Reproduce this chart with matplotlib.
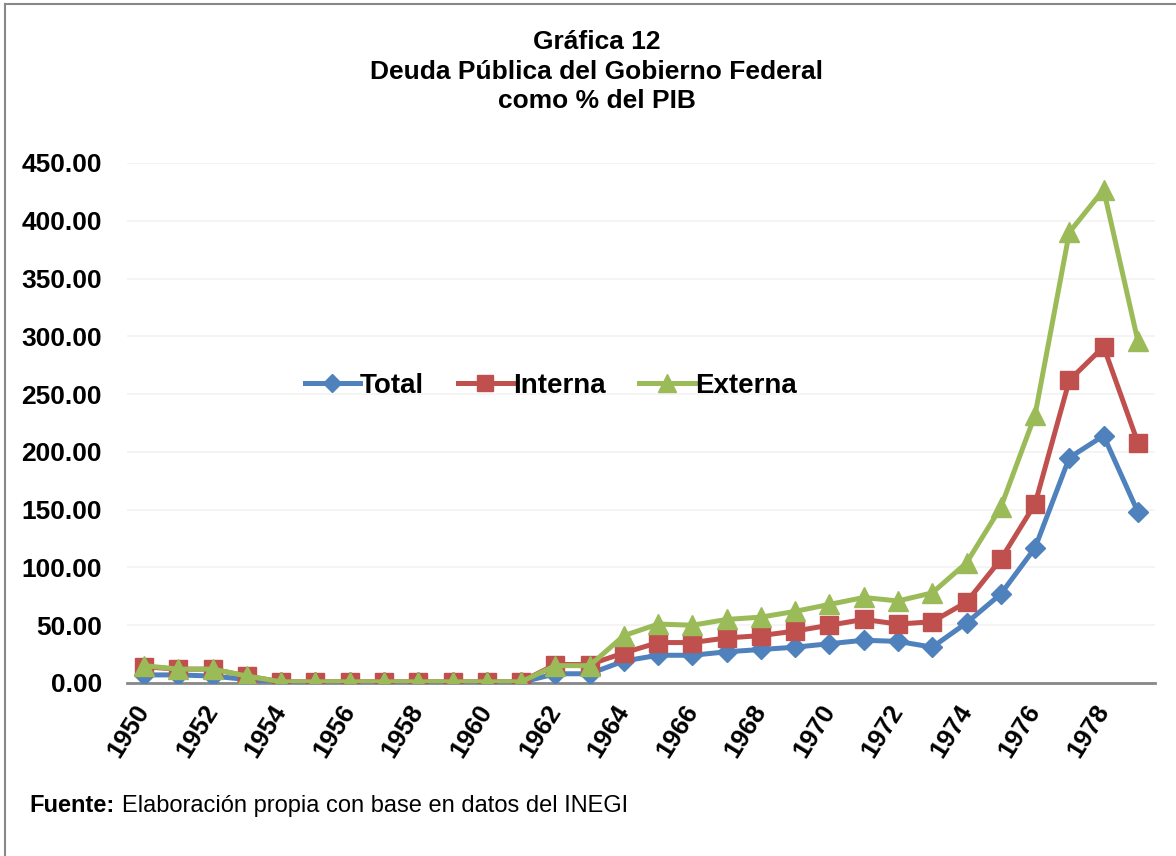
import matplotlib
matplotlib.use("Agg")
import matplotlib.pyplot as plt
from matplotlib.lines import Line2D

years = list(range(1950, 1980))
total = [7, 7, 6, 3, 0.5, 0.5, 0.5, 0.5, 0.5, 0.5, 0.5, 0.5, 8, 8,
         19, 24, 24, 27, 29, 31, 34, 37, 36, 31, 52, 77, 117, 195, 214, 148]
interna = [14, 12, 12, 6, 1, 1, 1, 1, 1, 1, 1, 1, 16, 16,
           26, 35, 35, 39, 41, 45, 50, 55, 51, 53, 70, 107, 155, 262, 291, 208]
externa = [15, 12, 12, 6, 1, 1, 1, 1, 1, 1, 1, 1, 15, 15,
           41, 51, 50, 55, 57, 62, 68, 74, 71, 78, 104, 152, 232, 390, 427, 296]
yticks = [0, 50, 100, 150, 200, 250, 300, 350, 400, 450]
xtick_years = list(range(1950, 1980, 2))

plt.rcParams['font.family'] = ['Liberation Sans', 'DejaVu Sans']

fig = plt.figure(figsize=(11.76, 8.56), dpi=100)
ax = fig.add_axes([127/1176, 1-683/856, (1155-127)/1176, (683-163)/856])

lw = 3.6
ax.plot(years, total, color='#4F81BD', lw=lw, marker='D', markersize=10, label='Total', zorder=3)
ax.plot(years, interna, color='#C0504D', lw=lw, marker='s', markersize=13, label='Interna', zorder=4)
ax.plot(years, externa, color='#9BBB59', lw=lw, marker='^', markersize=15, label='Externa', zorder=5)

ax.set_xlim(1949.5, 1979.5)
ax.set_ylim(0, 450)
ax.set_yticks(yticks)
ax.set_yticklabels([f"{v:.2f}" for v in yticks], fontsize=19, fontweight='bold')
ax.set_xticks(xtick_years)
ax.set_xticklabels([str(y) for y in xtick_years], fontsize=18.5, fontweight='bold',
                   rotation=58, ha='right', va='center', rotation_mode='anchor')
ax.tick_params(axis='both', length=0)
ax.tick_params(axis='y', pad=18)
ax.tick_params(axis='x', pad=17)
ax.grid(axis='y', color='#f2f2f2', lw=1.2)
ax.set_axisbelow(True)
for s in ['top', 'right', 'left']:
    ax.spines[s].set_visible(False)
ax.spines['bottom'].set_color('#888888')
ax.spines['bottom'].set_linewidth(2)

leg = ax.legend(loc='center', bbox_to_anchor=(0.412, 0.571), ncol=3, frameon=False,
                prop={'weight': 'bold', 'size': 20}, handlelength=2.0,
                handletextpad=0.0, columnspacing=1.2, markerscale=0.9)

fig.text(597/1176, 1-42/856, "Gráfica 12", ha='center', va='center', fontsize=19, fontweight='bold')
fig.text(597/1176, 1-72/856, "Deuda Pública del Gobierno Federal", ha='center', va='center', fontsize=19, fontweight='bold')
fig.text(597/1176, 1-101/856, "como % del PIB", ha='center', va='center', fontsize=19, fontweight='bold')

fig.text(29/1176, 1-806/856, "Fuente:", ha='left', va='center', fontsize=17, fontweight='bold')
fig.text(122/1176, 1-806/856, "Elaboración propia con base en datos del INEGI", ha='left', va='center', fontsize=17)

# frame (left and top edges visible)
fig.add_artist(Line2D([5/1176, 5/1176], [0, 1-4/856], color='#888888', lw=1.5, transform=fig.transFigure))
fig.add_artist(Line2D([5/1176, 1], [1-4/856, 1-4/856], color='#888888', lw=1.5, transform=fig.transFigure))

fig.savefig("out.png", dpi=100)
